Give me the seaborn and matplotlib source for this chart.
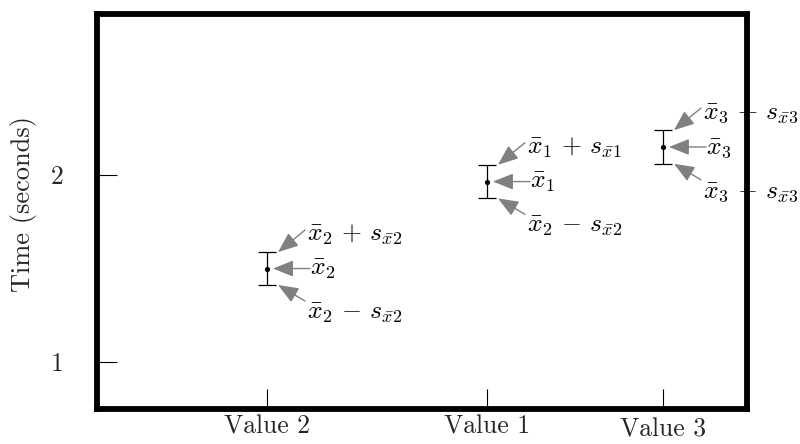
import matplotlib
matplotlib.use("Agg")
import matplotlib.pyplot as plt
import matplotlib.transforms as mtransforms
import seaborn as sns
import pandas as pd

categories = ["Value 2", "Value 1", "Value 3"]
positions = [1.0, 2.0, 2.8]
means = [1.50, 1.965, 2.15]
errors = [0.088, 0.09, 0.09]
upper_labels = [r"$\bar{x}_2 \,+\, s_{\bar{x}2}$", r"$\bar{x}_1 \,+\, s_{\bar{x}1}$", r"$\bar{x}_3 \,+\, s_{\bar{x}3}$"]
mid_labels = [r"$\bar{x}_2$", r"$\bar{x}_1$", r"$\bar{x}_3$"]
lower_labels = [r"$\bar{x}_2 \,-\, s_{\bar{x}2}$", r"$\bar{x}_2 \,-\, s_{\bar{x}2}$", r"$\bar{x}_3 \,-\, s_{\bar{x}3}$"]
y_ticks = [1, 2]

sns.set_theme(style="white")
plt.rcParams["font.family"] = "serif"
plt.rcParams["font.serif"] = ["cmr10"]
plt.rcParams["mathtext.fontset"] = "cm"
plt.rcParams["axes.formatter.use_mathtext"] = True

df = pd.DataFrame({"pos": positions, "mean": means, "err": errors, "cat": categories})

fig = plt.figure(figsize=(8, 4.44), dpi=100)
ax = fig.add_axes([97 / 800, 35 / 444, 650 / 800, 395 / 444])

ax.errorbar(df["pos"], df["mean"], yerr=df["err"], fmt="none", ecolor="black",
            elinewidth=0.9, capsize=6.5, capthick=0.9, zorder=2)
sns.scatterplot(data=df, x="pos", y="mean", ax=ax, color="black", s=14,
                edgecolor="black", linewidth=0, zorder=3, legend=False)

arrow_kw = dict(arrowstyle="-|>,head_length=0.5,head_width=0.2", color="#808080",
                lw=1.0, mutation_scale=25, shrinkA=0, shrinkB=0)
fs = 18.5


def shifted(dx):
    return ax.transData + mtransforms.ScaledTranslation(dx / 100, 0, fig.dpi_scale_trans)


for x, m, e, ul, ml, ll in zip(positions, means, errors, upper_labels, mid_labels, lower_labels):
    # upper
    ax.annotate("", xy=(x, m + e), xycoords=shifted(11), xytext=(27, 22),
                textcoords="offset pixels", arrowprops=arrow_kw, annotation_clip=False)
    ax.annotate(ul, xy=(x, m + e), xytext=(40, 17), textcoords="offset pixels",
                ha="left", va="center", fontsize=fs, color="black", annotation_clip=False)
    # middle
    ax.annotate("", xy=(x, m), xycoords=shifted(6), xytext=(37, 0),
                textcoords="offset pixels", arrowprops=arrow_kw, annotation_clip=False)
    ax.annotate(ml, xy=(x, m), xytext=(43, -1), textcoords="offset pixels",
                ha="left", va="center", fontsize=fs, color="black", annotation_clip=False)
    # lower
    ax.annotate("", xy=(x, m - e), xycoords=shifted(11), xytext=(27, -16),
                textcoords="offset pixels", arrowprops=arrow_kw, annotation_clip=False)
    ax.annotate(ll, xy=(x, m - e), xytext=(40, -28), textcoords="offset pixels",
                ha="left", va="center", fontsize=fs, color="black", annotation_clip=False)

ax.set_xlim(0.227, 3.182)
ax.set_ylim(0.749, 2.861)
ax.set_xticks(positions)
ax.set_xticklabels(categories, fontsize=18.5)
ax.set_yticks(y_ticks)
ax.set_yticklabels([str(t) for t in y_ticks], fontsize=18.5)
ax.set_xlabel("")
ax.set_ylabel("Time (seconds)", fontsize=19)
ax.yaxis.set_label_coords(-0.092, 0.52)
ax.tick_params(axis="both", direction="in", length=14.5, width=0.8, color="black",
               bottom=True, left=True)
ax.tick_params(axis="y", pad=24)
ax.tick_params(axis="x", pad=4.5)
for s in ax.spines.values():
    s.set_linewidth(4.2)
    s.set_color("black")
ax.grid(False)

lbl = ax.get_xticklabels()[2]
lbl.set_transform(lbl.get_transform() + mtransforms.ScaledTranslation(0, -3 / 100, fig.dpi_scale_trans))

fig.savefig("out.png", dpi=100)
